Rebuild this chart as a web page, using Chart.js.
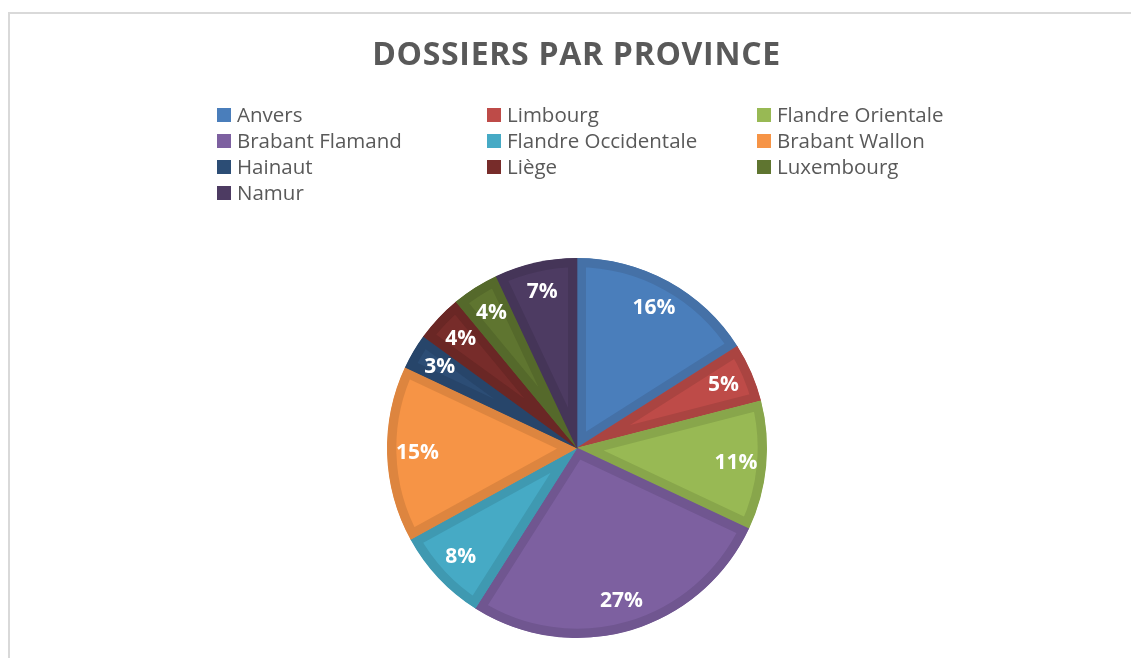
<!DOCTYPE html>
<html>
<head>
<meta charset="utf-8">
<script src="https://cdn.jsdelivr.net/npm/chart.js@4.4.0/dist/chart.umd.min.js"></script>
<style>
  html, body { margin: 0; padding: 0; background: #fff; }
  #wrap { position: relative; width: 1131px; height: 658px; overflow: hidden; font-family: "Open Sans", "Liberation Sans", sans-serif; }
  #frame { position: absolute; left: 8px; top: 12px; width: 1200px; height: 700px; border-left: 2px solid #d9d9d9; border-top: 2px solid #d9d9d9; box-sizing: border-box; }
  #c { position: absolute; left: 0; top: 0; }
  #title { position: absolute; left: 0; width: 1153px; top: 31px; text-align: center; font-weight: 700; font-size: 32px; color: #595959; letter-spacing: 0.7px; }
  #legend { position: absolute; left: 217px; top: 101px; }
  .item { position: absolute; white-space: nowrap; font-size: 20.5px; color: #595959; line-height: 26px; height: 26px; }
  .sw { display: inline-block; width: 14px; height: 14px; vertical-align: middle; margin-right: 6px; position: relative; top: -2px; }
</style>
</head>
<body>
<div id="wrap">
  <div id="frame"></div>
  <canvas id="c" width="1131" height="658"></canvas>
  <div id="title"></div>
  <div id="legend"></div>
</div>
<script>
const chartTitle = "DOSSIERS PAR PROVINCE";
const provinces = ["Anvers", "Limbourg", "Flandre Orientale", "Brabant Flamand", "Flandre Occidentale", "Brabant Wallon", "Hainaut", "Liège", "Luxembourg", "Namur"];
const shares = [16, 5, 11, 27, 8, 15, 3, 4, 4, 7];
const fillColors = ["#4A7EBB", "#BE4B48", "#98B954", "#7D60A0", "#46AAC5", "#F69446", "#2C4D75", "#772C2A", "#5F7530", "#4D3B62"];
const edgeColors = ["#4571A7", "#AA4441", "#88A64B", "#705690", "#3F99B1", "#DD853F", "#27456A", "#6A2725", "#55692B", "#453558"];

document.getElementById('title').textContent = chartTitle;

// legend: 3 columns grid
const legend = document.getElementById('legend');
const colX = [0, 270, 540];
const rowH = 26;
provinces.forEach((p, i) => {
  const d = document.createElement('div');
  d.className = 'item';
  d.style.left = colX[i % 3] + 'px';
  d.style.top = (Math.floor(i / 3) * rowH) + 'px';
  const s = document.createElement('span');
  s.className = 'sw';
  s.style.background = fillColors[i];
  d.appendChild(s);
  d.appendChild(document.createTextNode(p));
  legend.appendChild(d);
});

const labelPlugin = {
  id: 'pctLabels',
  afterDatasetsDraw(chart) {
    const ctx = chart.ctx;
    const meta = chart.getDatasetMeta(0);
    const data = chart.data.datasets[0].data;
    const total = data.reduce((a, b) => a + b, 0);
    ctx.save();
    ctx.font = 'bold 21px "Open Sans", "Liberation Sans", sans-serif';
    ctx.fillStyle = '#ffffff';
    ctx.textAlign = 'center';
    ctx.textBaseline = 'middle';
    meta.data.forEach((arc, i) => {
      const p = arc.getProps(['x', 'y', 'startAngle', 'endAngle', 'outerRadius'], true);
      const mid = (p.startAngle + p.endAngle) / 2;
      const r = p.outerRadius * 0.84;
      const x = p.x + Math.cos(mid) * r;
      const y = p.y + Math.sin(mid) * r;
      ctx.fillText(Math.round(data[i] / total * 100) + '%', x, y);
    });
    ctx.restore();
  }
};

new Chart(document.getElementById('c'), {
  type: 'pie',
  data: {
    labels: provinces,
    datasets: [{
      data: shares,
      backgroundColor: fillColors,
      borderColor: edgeColors,
      borderWidth: 9,
      borderAlign: 'inner',
      hoverOffset: 0,
      offset: 0
    }]
  },
  options: {
    responsive: false,
    animation: false,
    devicePixelRatio: 1,
    radius: 190,
    layout: { padding: { left: 387, right: 364, top: 258, bottom: 20 } },
    plugins: {
      legend: { display: false },
      title: { display: false },
      tooltip: { enabled: false }
    },
    events: []
  },
  plugins: [labelPlugin]
});
</script>
</body>
</html>
